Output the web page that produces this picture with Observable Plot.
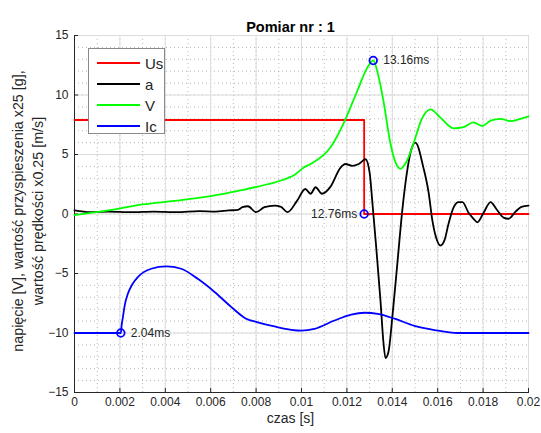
<!DOCTYPE html>
<html>
<head>
<meta charset="utf-8">
<script src="https://cdn.jsdelivr.net/npm/d3@7"></script>
<script src="https://cdn.jsdelivr.net/npm/@observablehq/plot@0.6"></script>
<style>
  html, body { margin: 0; padding: 0; background: white; }
  #wrap { position: relative; width: 541px; height: 433px; font-family: "Liberation Sans", Arial, sans-serif; }
  #legend { position: absolute; left: 88px; top: 48px; width: 77px; height: 86px; border: 1px solid #8a8a8a; background: white; box-sizing: border-box; }
  .row { position: absolute; left: 0; height: 20px; display: flex; align-items: center; }
  .sw { width: 43px; height: 0; border-top: 2px solid; margin-left: 8px; margin-right: 5px; }
  .lab { font-size: 15px; color: #262626; }
</style>
</head>
<body>
<div id="wrap"><div id="legend"></div></div>
<script>
// ---- data ----
const title = "Pomiar nr : 1";
const xLabel = "czas [s]";
const yLabel1 = "napięcie [V], wartość przyspieszenia x25 [g],";
const yLabel2 = "wartość prędkości x0.25 [m/s]";

const seriesNames = ["Us", "a", "V", "Ic"];
const seriesColors = ["#ff0000", "#000000", "#00ff00", "#0000ff"];

const xTicks = [0, 0.002, 0.004, 0.006, 0.008, 0.01, 0.012, 0.014, 0.016, 0.018, 0.02];
const xTickLabels = ["0", "0.002", "0.004", "0.006", "0.008", "0.01", "0.012", "0.014", "0.016", "0.018", "0.02"];
const yTicks = [-15, -10, -5, 0, 5, 10, 15];

const tUs = [0, 0.01276, 0.01276, 0.02];
const vUs = [7.9, 7.9, 0, 0];

const tA = [0, 0.0007, 0.0015, 0.0025, 0.0035, 0.0045, 0.0055, 0.0062, 0.0068, 0.0072, 0.0074, 0.00764, 0.0080, 0.00837, 0.00881, 0.0091, 0.00938,
  0.0098, 0.01017, 0.0104, 0.01062, 0.0109, 0.01128, 0.01172, 0.01194, 0.01223, 0.01252, 0.01282, 0.0130, 0.01313, 0.0133, 0.01348, 0.01361,
  0.0137, 0.01383, 0.01401, 0.01423, 0.01445, 0.01467, 0.01485, 0.01502, 0.01537, 0.0156, 0.01577, 0.01595, 0.01612, 0.0163, 0.01648,
  0.0167, 0.01692, 0.01709, 0.01736, 0.01758, 0.01775, 0.01802, 0.01833, 0.01859, 0.0189, 0.01912, 0.01943, 0.01969, 0.02];
const vA = [0.3, 0.15, 0.2, 0.15, 0.2, 0.15, 0.25, 0.2, 0.3, 0.35, 0.57, 0.65, 0.15, 0.57, 0.7, 0.6, 0.15,
  1.1, 2.1, 1.7, 2.25, 1.7, 2.3, 3.9, 4.2, 4.05, 4.2, 4.6, 3.5, 0.8, -3.0, -7.3, -10.8,
  -12.1, -11.6, -8.5, -4.0, 0.5, 3.8, 5.5, 6.0, 3.9, 1.8, -0.6, -2.1, -2.65, -2.2, -0.8,
  0.55, 1.0, 1.0, 0.1, -0.4, -0.7, 0.1, 1.0, 0.4, -0.3, -0.4, 0.2, 0.6, 0.7];

const tV = [0, 0.0015, 0.003, 0.0044, 0.006, 0.00736, 0.0085, 0.00938, 0.0097, 0.0101, 0.0104, 0.01128, 0.01185, 0.01247, 0.0129, 0.01316,
  0.0134, 0.01361, 0.01392, 0.01415, 0.01436, 0.0146, 0.01493, 0.0153, 0.01568, 0.01612, 0.0167, 0.01714, 0.01758, 0.01797, 0.01833,
  0.01877, 0.0192, 0.01965, 0.02];
const vV = [-0.1, 0.3, 0.8, 1.1, 1.5, 2.0, 2.5, 3.0, 3.3, 3.9, 4.2, 5.6, 7.6, 10.4, 12.3, 12.9,
  11.5, 9.5, 5.9, 4.3, 3.8, 4.3, 5.9, 8.0, 8.8, 8.1, 7.2, 7.3, 7.7, 7.4, 7.85,
  8.0, 7.8, 8.0, 8.2];

const tIc = [0, 0.00204, 0.00208, 0.00213, 0.00222, 0.00235, 0.00255, 0.00279, 0.00338, 0.00404, 0.0047, 0.00543, 0.00617, 0.0069, 0.00756,
  0.00807, 0.00881, 0.00955, 0.00999, 0.01057, 0.01145, 0.01219, 0.01278, 0.01336, 0.0141, 0.01498, 0.01586, 0.01689, 0.02];
const vIc = [-10, -10, -9.3, -8.7, -7.6, -6.7, -5.9, -5.3, -4.6, -4.4, -4.6, -5.45, -6.55, -7.8, -8.8,
  -9.1, -9.45, -9.73, -9.8, -9.65, -8.95, -8.45, -8.3, -8.4, -8.8, -9.4, -9.75, -10, -10];

const markT = [0.00204, 0.01276, 0.01316];
const markV = [-10, 0, 12.9];
const markLabels = ["2.04ms", "12.76ms", "13.16ms"];

// ---- build ----
const zip = (t, v) => t.map((x, i) => ({t: x, v: v[i]}));
const series = [zip(tUs, vUs), zip(tA, vA), zip(tV, vV), zip(tIc, vIc)];
const marks = markT.map((t, i) => ({t, v: markV[i], label: markLabels[i]}));

const W = 541, H = 433, mL = 74, mR = 13, mT = 35, mB = 41;
const fw = W - mL - mR, fh = H - mT - mB;
const xMinor = d3.range(0, 0.0201, 0.001);
const yMinor = d3.range(-15, 15.01, 1);
const gridMajor = "#dcdcdc";
const gridMinor = "#b8b8b8";
const axisCol = "#262626";

const chart = Plot.plot({
  width: W, height: H,
  marginLeft: mL, marginRight: mR, marginTop: mT, marginBottom: mB,
  style: {fontFamily: "'Liberation Sans', Arial, sans-serif", fontSize: "12px", color: axisCol, background: "white", overflow: "visible"},
  x: {domain: [0, 0.02]},
  y: {domain: [-15, 15]},
  marks: [
    Plot.gridX(xMinor, {stroke: gridMinor, strokeOpacity: 1, strokeDasharray: "1,3"}),
    Plot.gridY(yMinor, {stroke: gridMinor, strokeOpacity: 1, strokeDasharray: "1,3"}),
    Plot.gridX(xTicks, {stroke: gridMajor, strokeOpacity: 1}),
    Plot.gridY(yTicks, {stroke: gridMajor, strokeOpacity: 1}),
    Plot.frame({stroke: gridMajor}),
    Plot.axisX(xTicks, {tickSize: 0, tickPadding: 5, tickFormat: (d, i) => xTickLabels[i], label: null, fontSize: 12}),
    Plot.axisY(yTicks, {tickSize: 0, tickPadding: 6, label: null, fontSize: 12}),
    Plot.tickX(xTicks, {x: d => d, stroke: axisCol, insetTop: fh - 4}),
    Plot.tickY(yTicks, {y: d => d, stroke: axisCol, insetRight: fw - 4}),
    Plot.frame({anchor: "left", stroke: axisCol}),
    Plot.frame({anchor: "bottom", stroke: axisCol}),
    ...series.map((s, i) => Plot.line(s, {x: "t", y: "v", stroke: seriesColors[i], strokeWidth: 1.8, curve: "monotone-x"})),
    Plot.dot(marks, {x: "t", y: "v", r: 3.8, stroke: "#0000ff", strokeWidth: 1.8, fill: "none"}),
    Plot.text(marks.filter((d, i) => i !== 1), {x: "t", y: "v", text: "label", textAnchor: "start", dx: 10, fontSize: 12, fill: axisCol}),
    Plot.text(marks.filter((d, i) => i === 1), {x: "t", y: "v", text: "label", textAnchor: "end", dx: -7, fontSize: 12, fill: axisCol}),
    Plot.text([title], {frameAnchor: "top", textAnchor: "middle", dy: -14, dx: -11, fontWeight: "bold", fontSize: 14.5, fill: "#000"}),
    Plot.text([xLabel], {frameAnchor: "bottom", textAnchor: "middle", dy: 30, dx: -11, fontSize: 14, fill: axisCol}),
    Plot.text([yLabel1], {frameAnchor: "left", textAnchor: "middle", rotate: -90, dx: -56, dy: -3, fontSize: 14.3, fill: axisCol}),
    Plot.text([yLabel2], {frameAnchor: "left", textAnchor: "middle", rotate: -90, dx: -36, dy: -3, fontSize: 14.3, fill: axisCol})
  ]
});
const wrap = document.getElementById("wrap");
wrap.insertBefore(chart, wrap.firstChild);
chart.style.position = "absolute";
chart.style.left = "0"; chart.style.top = "0";

const legend = document.getElementById("legend");
seriesNames.forEach((n, i) => {
  const r = document.createElement("div");
  r.className = "row";
  r.style.top = (4 + i * 21) + "px";
  const sw = document.createElement("div");
  sw.className = "sw"; sw.style.borderTopColor = seriesColors[i];
  const lb = document.createElement("span");
  lb.className = "lab"; lb.textContent = n;
  r.appendChild(sw); r.appendChild(lb);
  legend.appendChild(r);
});
</script>
</body>
</html>
